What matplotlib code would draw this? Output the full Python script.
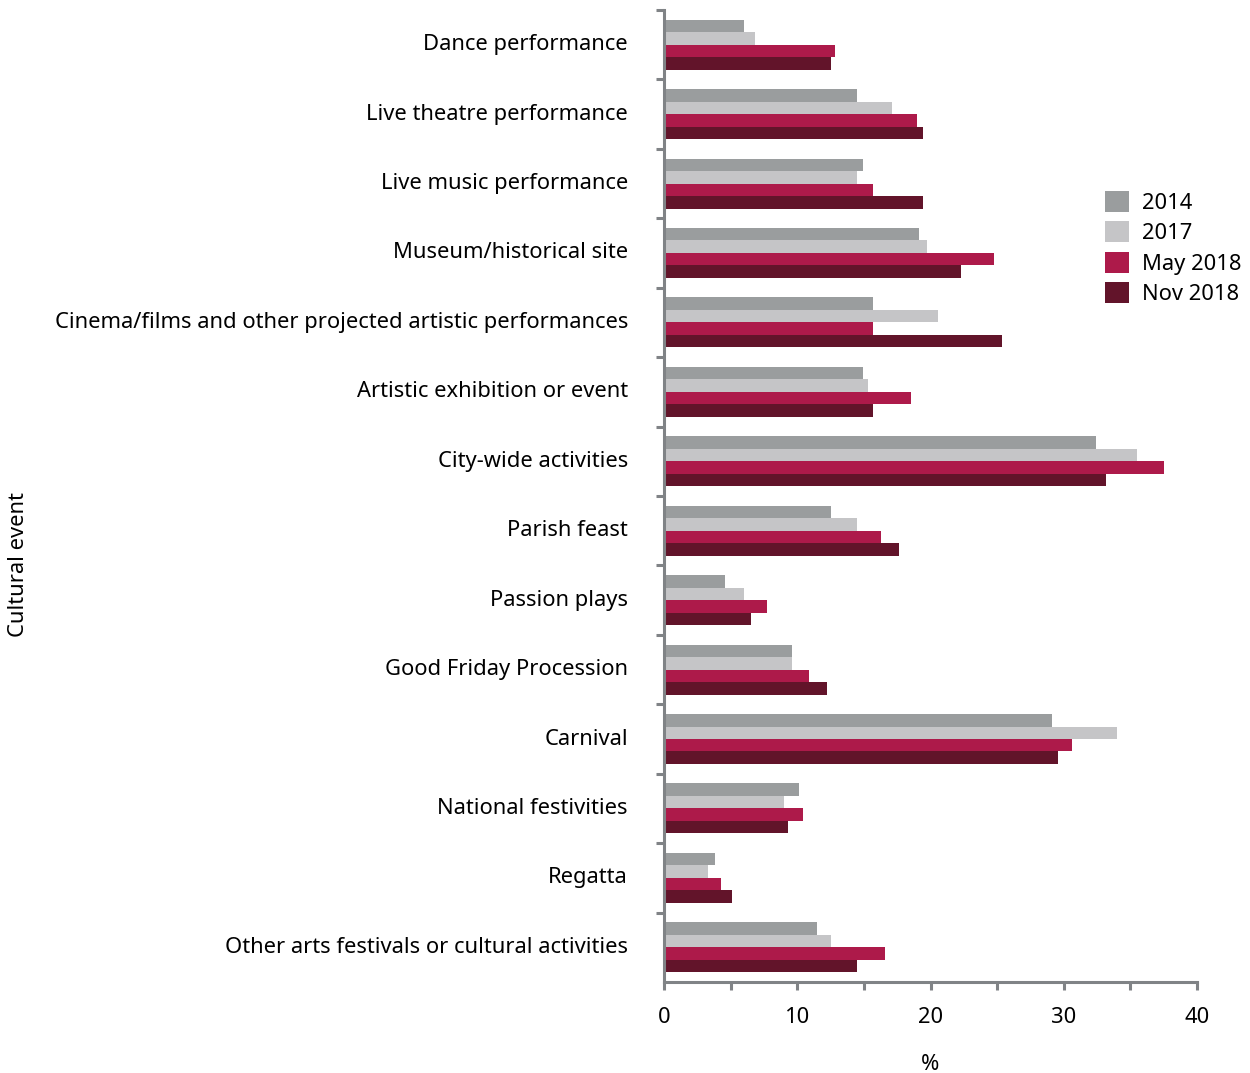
import numpy as np
import matplotlib
matplotlib.use('Agg')
import matplotlib.pyplot as plt
from matplotlib.ticker import MultipleLocator

plt.rcParams['font.family'] = ['Noto Sans', 'DejaVu Sans']

categorias = [
    'Dance performance',
    'Live theatre performance',
    'Live music performance',
    'Museum/historical site',
    'Cinema/films and other projected artistic performances',
    'Artistic exhibition or event',
    'City-wide activities',
    'Parish feast',
    'Passion plays',
    'Good Friday Procession',
    'Carnival',
    'National festivities',
    'Regatta',
    'Other arts festivals or cultural activities',
]

v2014    = [6.0, 14.5, 14.9, 19.1, 15.7, 14.9, 32.4, 12.5, 4.6, 9.6, 29.1, 10.1, 3.8, 11.5]
v2017    = [6.8, 17.1, 14.5, 19.7, 20.6, 15.3, 35.5, 14.5, 6.0, 9.6, 34.0, 9.0, 3.3, 12.5]
vmai2018 = [12.8, 19.0, 15.7, 24.8, 15.7, 18.5, 37.5, 16.3, 7.7, 10.9, 30.6, 10.4, 4.3, 16.6]
vnov2018 = [12.5, 19.4, 19.4, 22.3, 25.4, 15.7, 33.2, 17.6, 6.5, 12.2, 29.6, 9.3, 5.1, 14.5]

series = [
    ('2014', v2014, '#9a9d9e'),
    ('2017', v2017, '#c5c5c7'),
    ('May 2018', vmai2018, '#ad1a4a'),
    ('Nov 2018', vnov2018, '#62142a'),
]

cor_eixo = '#808386'
fs = 15.8

fig = plt.figure(figsize=(12.5, 10.73), dpi=100)
ax = fig.add_axes([0.5312, 0.0848, 0.4264, 0.9059])

y = np.arange(len(categorias))
altura = 0.18
offsets = [-1.5, -0.5, 0.5, 1.5]

for (nome, vals, cor), off in zip(series, offsets):
    ax.barh(y + off * altura, vals, height=altura, color=cor, label=nome, linewidth=0)

ax.set_xlim(0, 40)
ax.set_ylim(len(categorias) - 0.5, -0.5)

ax.set_yticks(y)
ax.set_yticklabels(categorias, fontsize=fs, va='center')
ax.set_yticks(np.arange(len(categorias)) - 0.5, minor=True)
ax.tick_params(axis='y', which='major', length=0, pad=26)
ax.tick_params(axis='y', which='minor', length=6, width=2.2, color=cor_eixo)

ax.xaxis.set_major_locator(MultipleLocator(10))
ax.xaxis.set_minor_locator(MultipleLocator(5))
ax.tick_params(axis='x', which='both', length=6, width=2.2, color=cor_eixo, labelsize=fs, pad=12)

for lado in ['top', 'right']:
    ax.spines[lado].set_visible(False)
for lado in ['left', 'bottom']:
    ax.spines[lado].set_color(cor_eixo)
    ax.spines[lado].set_linewidth(2.2)

ax.set_xlabel('%', fontsize=fs, labelpad=19)
fig.text(0.015, 1 - 565 / 1073, 'Cultural event', rotation=90, fontsize=fs,
         ha='center', va='center')

fig.legend(loc='center left', bbox_to_anchor=(0.884, 1 - 248 / 1073), frameon=False,
           fontsize=fs, borderpad=0, handlelength=1.1, handleheight=1.1,
           labelspacing=0.33, handletextpad=0.6, borderaxespad=0)

fig.savefig('out.png', dpi=100)
